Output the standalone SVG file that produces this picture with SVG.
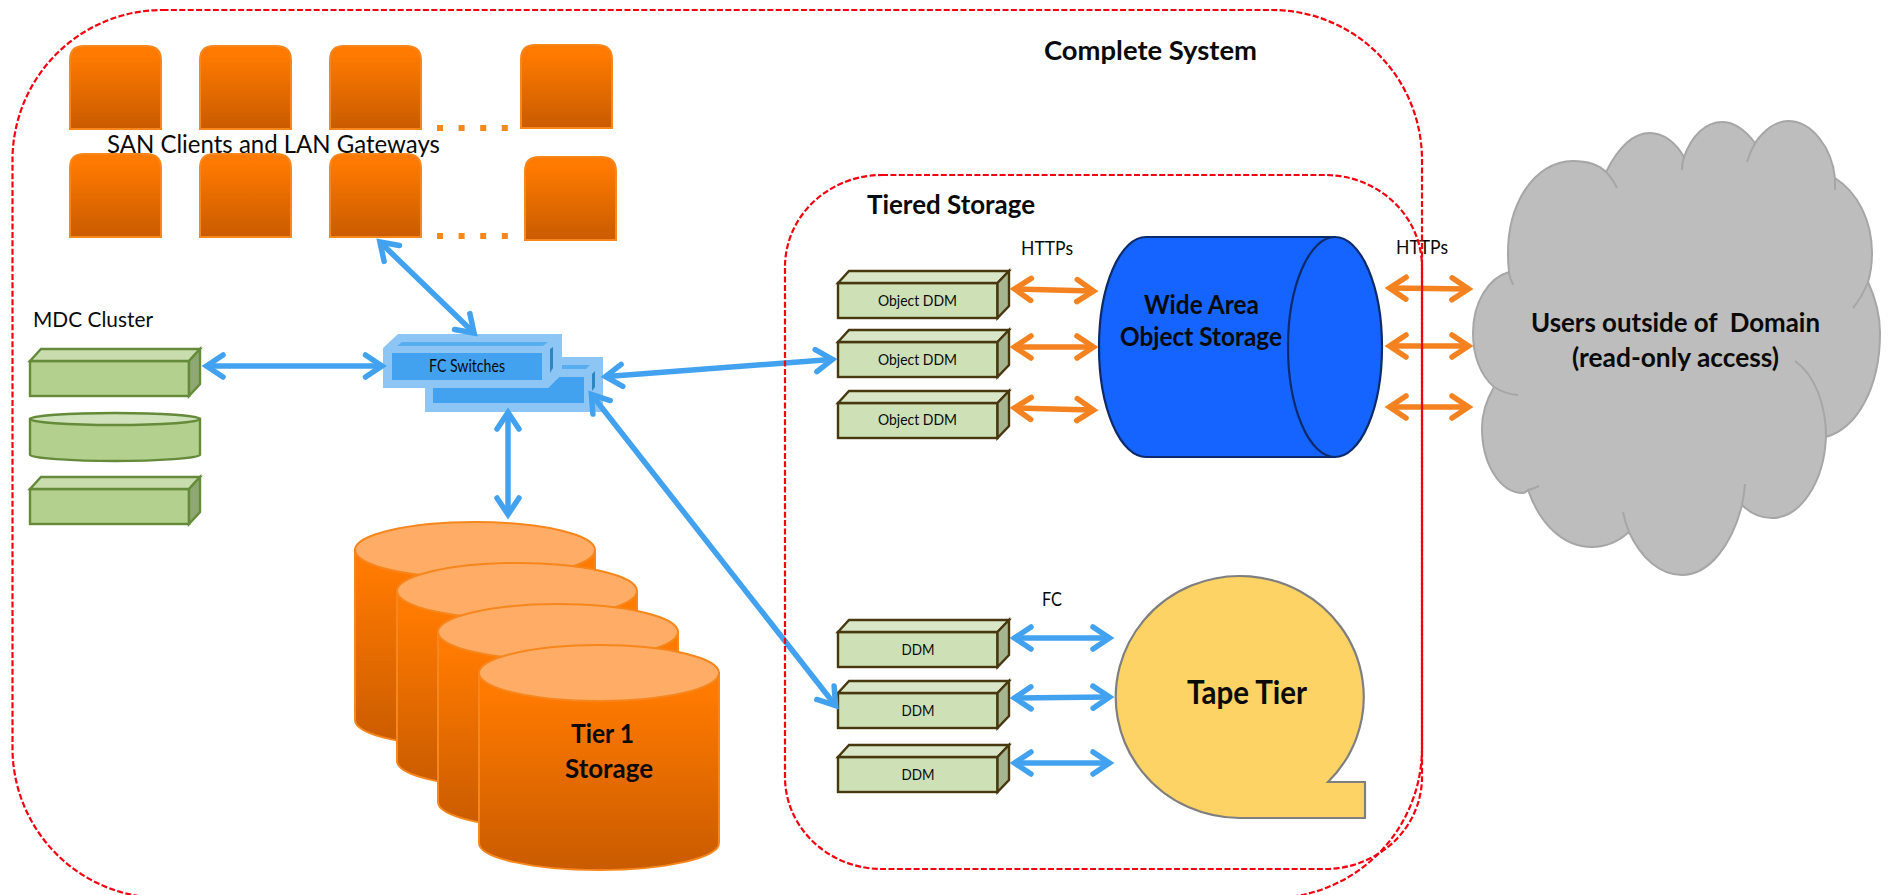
<svg xmlns="http://www.w3.org/2000/svg" width="1889" height="895" viewBox="0 0 1889 895">
<style>
text{font-family:Lato,Carlito,"Open Sans",sans-serif;fill:#0a0a0a}
.b{font-weight:700}
.mid{text-anchor:middle}
.frame{fill:none;stroke:#f4000f;stroke-width:2.2;stroke-dasharray:6 2.4}
.client{fill:url(#og);stroke:#f7861c;stroke-width:2}
.dots{fill:none;stroke:#f7861c;stroke-width:6;stroke-dasharray:6 15.6}
.cyl{fill:url(#og);stroke:#f7861c;stroke-width:2}
.cyltop{fill:#ffad66;stroke:#f7861c;stroke-width:2}
.f{fill:#cde0b6;stroke:#47380f;stroke-width:2.4}
.t{fill:#d9e7c8;stroke:#47380f;stroke-width:2.4}
.s{fill:#a5b590;stroke:#47380f;stroke-width:2.4}
.mf{fill:#b3d08f;stroke:#648a3a;stroke-width:2.4}
.mt{fill:#c8dcae;stroke:#648a3a;stroke-width:2.4}
.ms{fill:#8fa873;stroke:#648a3a;stroke-width:2.4}
.bl{fill:none;stroke:#42a2ef;stroke-width:5.5;marker-start:url(#ab);marker-end:url(#ab)}
.or{fill:none;stroke:#f58220;stroke-width:5.5;marker-start:url(#ao);marker-end:url(#ao)}
</style>
<defs>
<linearGradient id="og" x1="0" y1="0" x2="0" y2="1"><stop offset="0.1" stop-color="#ff7a00"/><stop offset="1" stop-color="#c95b00"/></linearGradient>
<marker id="ab" markerUnits="userSpaceOnUse" markerWidth="40" markerHeight="40" refX="0" refY="0" viewBox="-20 -20 40 40" orient="auto-start-reverse" overflow="visible"><path d="M-15,-11 L1.5,0 L-15,11" fill="none" stroke="#42a2ef" stroke-width="5.500" stroke-linecap="round"/></marker>
<marker id="ao" markerUnits="userSpaceOnUse" markerWidth="40" markerHeight="40" refX="0" refY="0" viewBox="-20 -20 40 40" orient="auto-start-reverse" overflow="visible"><path d="M-15,-11 L1.5,0 L-15,11" fill="none" stroke="#f58220" stroke-width="5.500" stroke-linecap="round"/></marker>
<path id="cl" class="client" d="M1,84 V15 Q1,1 15,1 H77 Q92,1 92,15 V84 Z"/>
<path id="cy" class="cyl" d="M0,29 V199 C0,214 54,226 120,226 C186,226 240,214 240,199 V29 Z"/>
<ellipse id="ct" class="cyltop" cx="120" cy="29" rx="120" ry="28"/>
<g id="ddm"><rect class="f" x="838" y="0" width="159.500" height="35"/><path class="t" d="M838,0 L849,-12 H1009 L997.500,0 Z"/><path class="s" d="M997.500,0 L1009,-12 V23 L997.500,35 Z"/></g>
<g id="mbox"><rect class="mf" x="30" y="0" width="159" height="35"/><path class="mt" d="M30,0 L41,-12 H200 L189,0 Z"/><path class="ms" d="M189,0 L200,-12 V23 L189,35 Z"/></g>
</defs>

<g id="clients">
<use href="#cl" x="69" y="45"/><use href="#cl" x="199" y="45"/><use href="#cl" x="329" y="45"/><use href="#cl" x="520" y="44"/>
<use href="#cl" x="69" y="153"/><use href="#cl" x="199" y="153"/><use href="#cl" x="329" y="153"/><use href="#cl" x="524" y="156"/>
<path class="dots" d="M437,128 H508"/><path class="dots" d="M437,236 H508"/>
<text x="107" y="153" font-size="25" textLength="333" lengthAdjust="spacingAndGlyphs">SAN Clients and LAN Gateways</text>
</g>

<g id="mdc-cluster">
<text x="33" y="327" font-size="22" textLength="120" lengthAdjust="spacingAndGlyphs">MDC Cluster</text>
<use href="#mbox" y="361"/>
<path class="mf" d="M30,419 V455 C30,458 72,461 115,461 C158,461 200,458 200,455 V419 Z"/>
<ellipse cx="115" cy="419" rx="85" ry="6" fill="#d0e2bb" stroke="#648a3a" stroke-width="2.400"/>
<use href="#mbox" y="489"/>
</g>

<g id="fc-switches">
<path fill="#8dc6f5" d="M425,357 H603 V412 H425 Z"/>
<path fill="#42a2ef" d="M433,388 H548 L559,377 H584 V403 H433 Z"/>
<path fill="#42a2ef" opacity=".7" d="M562,365 H590 L586,369 H562 Z"/>
<path fill="#2e86c1" d="M592,374 L595,371 V387 L592,391 Z"/>
<path fill="#8dc6f5" d="M383,348 L398,334 H562 V374 L548,388 H383 Z"/>
<path fill="#42a2ef" d="M392,353 H542 V380 H392 Z"/>
<path fill="#42a2ef" opacity=".7" d="M397,346 L402,342 H548 L543,346 Z"/>
<path fill="#2e86c1" d="M550,349 L553,347 V368 L550,373 Z"/>
<text x="429" y="372" font-size="17" textLength="76" lengthAdjust="spacingAndGlyphs">FC Switches</text>
</g>

<g id="tier1-storage">
<use href="#cy" x="355" y="521"/><use href="#ct" x="355" y="521"/>
<use href="#cy" x="397" y="562"/><use href="#ct" x="397" y="562"/>
<use href="#cy" x="438" y="603"/><use href="#ct" x="438" y="603"/>
<use href="#cy" x="479" y="644"/><use href="#ct" x="479" y="644"/>
<text class="b" x="571" y="743" font-size="26" textLength="63" lengthAdjust="spacingAndGlyphs">Tier 1</text>
<text class="b" x="565" y="778" font-size="26" textLength="88" lengthAdjust="spacingAndGlyphs">Storage</text>
</g>

<g id="object-ddms">
<use href="#ddm" y="283"/><use href="#ddm" y="342"/><use href="#ddm" y="403"/>
<text class="mid" x="917.500" y="306" font-size="16" textLength="79" lengthAdjust="spacingAndGlyphs">Object DDM</text>
<text class="mid" x="917.500" y="365" font-size="16" textLength="79" lengthAdjust="spacingAndGlyphs">Object DDM</text>
<text class="mid" x="917.500" y="425" font-size="16" textLength="79" lengthAdjust="spacingAndGlyphs">Object DDM</text>
</g>

<g id="ddms">
<use href="#ddm" y="632"/><use href="#ddm" y="693"/><use href="#ddm" y="757"/>
<text class="mid" x="918" y="655" font-size="16" textLength="33" lengthAdjust="spacingAndGlyphs">DDM</text>
<text class="mid" x="918" y="716" font-size="16" textLength="33" lengthAdjust="spacingAndGlyphs">DDM</text>
<text class="mid" x="918" y="780" font-size="16" textLength="33" lengthAdjust="spacingAndGlyphs">DDM</text>
</g>

<g id="wide-area-object-storage">
<path d="M1146,237 H1335 A47,110 0 0 1 1335,457 H1146 A47,110 0 0 1 1146,237 Z" fill="#1664ff" stroke="#0d2b6b" stroke-width="2.200"/>
<path d="M1335,237 A47,110 0 0 0 1335,457" fill="none" stroke="#0d2b6b" stroke-width="2.200"/>
<text class="b" x="1144" y="314" font-size="27" textLength="115" lengthAdjust="spacingAndGlyphs">Wide Area</text>
<text class="b" x="1120" y="346" font-size="27" textLength="162" lengthAdjust="spacingAndGlyphs">Object Storage</text>
</g>

<g id="tape-tier">
<path d="M1241,818 A124,121 0 1 1 1328,782 H1365 V818 Z" fill="#fdd365" stroke="#7f7f7f" stroke-width="2.200"/>
<text class="b" x="1187" y="704" font-size="32" textLength="120" lengthAdjust="spacingAndGlyphs">Tape Tier</text>
</g>

<g id="users-cloud">
<path fill="#bdbdbd" stroke="#a6a6a6" stroke-width="2" d="M1509,272 C1502,205 1535,161 1573,161 C1587,161 1598,164 1606,172 C1617,150 1632,133 1650,133 C1664,133 1676,143 1684,157 C1692,135 1706,122 1722,122 C1735,122 1746,131 1755,143 C1764,130 1776,121 1788,121 C1812,121 1832,148 1835,178 C1857,192 1872,220 1872,253 C1872,263 1871,272 1868,282 C1875,297 1880,315 1880,333 C1880,388 1857,428 1826,437 C1824,483 1800,518 1772,518 C1760,518 1750,513 1742,505 C1732,545 1709,575 1682,575 C1660,575 1641,558 1629,532 C1618,542 1605,547 1592,547 C1563,547 1540,524 1528,490 C1526,492 1525,493 1523,493 C1500,493 1482,464 1482,428 C1482,413 1487,399 1494,387 C1480,375 1473,355 1473,333 C1473,303 1488,278 1509,272 Z"/>
<path fill="none" stroke="#a6a6a6" stroke-width="2" d="M1509,272 C1509,277 1512,281 1513,285 M1606,172 Q1612,178 1617,188 M1684,157 Q1682,163 1682,170 M1755,143 Q1750,152 1747,162 M1835,178 L1835,190 M1868,282 Q1862,297 1853,308 M1795,361 C1815,375 1826,405 1826,437 M1742,505 Q1744,495 1745,484 M1629,532 Q1625,522 1623,512 M1528,490 Q1533,489 1539,486 M1494,387 Q1505,394 1518,395"/>
<text class="b" x="1531" y="332" font-size="26" textLength="289" lengthAdjust="spacingAndGlyphs" xml:space="preserve">Users outside of  Domain</text>
<text class="b" x="1572" y="367" font-size="26" textLength="207" lengthAdjust="spacingAndGlyphs">(read-only access)</text>
</g>

<g id="connectors">
<path class="bl" d="M381,243 L473,332"/>
<path class="bl" d="M208,366 H380.500"/>
<path class="bl" d="M607,376.500 L831,359.500"/>
<path class="bl" d="M592.300,395.500 L834.700,704.500"/>
<path class="bl" d="M508,414 V513"/>
<path class="bl" d="M1016,638 H1108"/>
<path class="bl" d="M1016,698 L1108,697"/>
<path class="bl" d="M1016,763 H1108"/>
<path class="or" d="M1016,289 L1092,291"/>
<path class="or" d="M1016,347 H1092"/>
<path class="or" d="M1016,408 L1092,410"/>
<path class="or" d="M1391,288 L1467,289"/>
<path class="or" d="M1391,346 H1467"/>
<path class="or" d="M1391,407 H1467"/>
</g>

<g id="labels">
<text x="1021" y="255" font-size="20" textLength="52" lengthAdjust="spacingAndGlyphs">HTTPs</text>
<text x="1396" y="254" font-size="20" textLength="52" lengthAdjust="spacingAndGlyphs">HTTPs</text>
<text x="1042" y="606" font-size="20" textLength="20" lengthAdjust="spacingAndGlyphs">FC</text>
</g>

<g id="complete-system">
<rect class="frame" x="12.500" y="10" width="1409.500" height="888" rx="150" ry="150"/>
<text class="b" x="1044" y="60" font-size="27" textLength="213" lengthAdjust="spacingAndGlyphs">Complete System</text>
</g>
<g id="tiered-storage">
<rect class="frame" x="785" y="175" width="637" height="694" rx="97" ry="92"/>
<text class="b" x="867" y="214" font-size="26" textLength="168" lengthAdjust="spacingAndGlyphs">Tiered Storage</text>
</g>
</svg>
